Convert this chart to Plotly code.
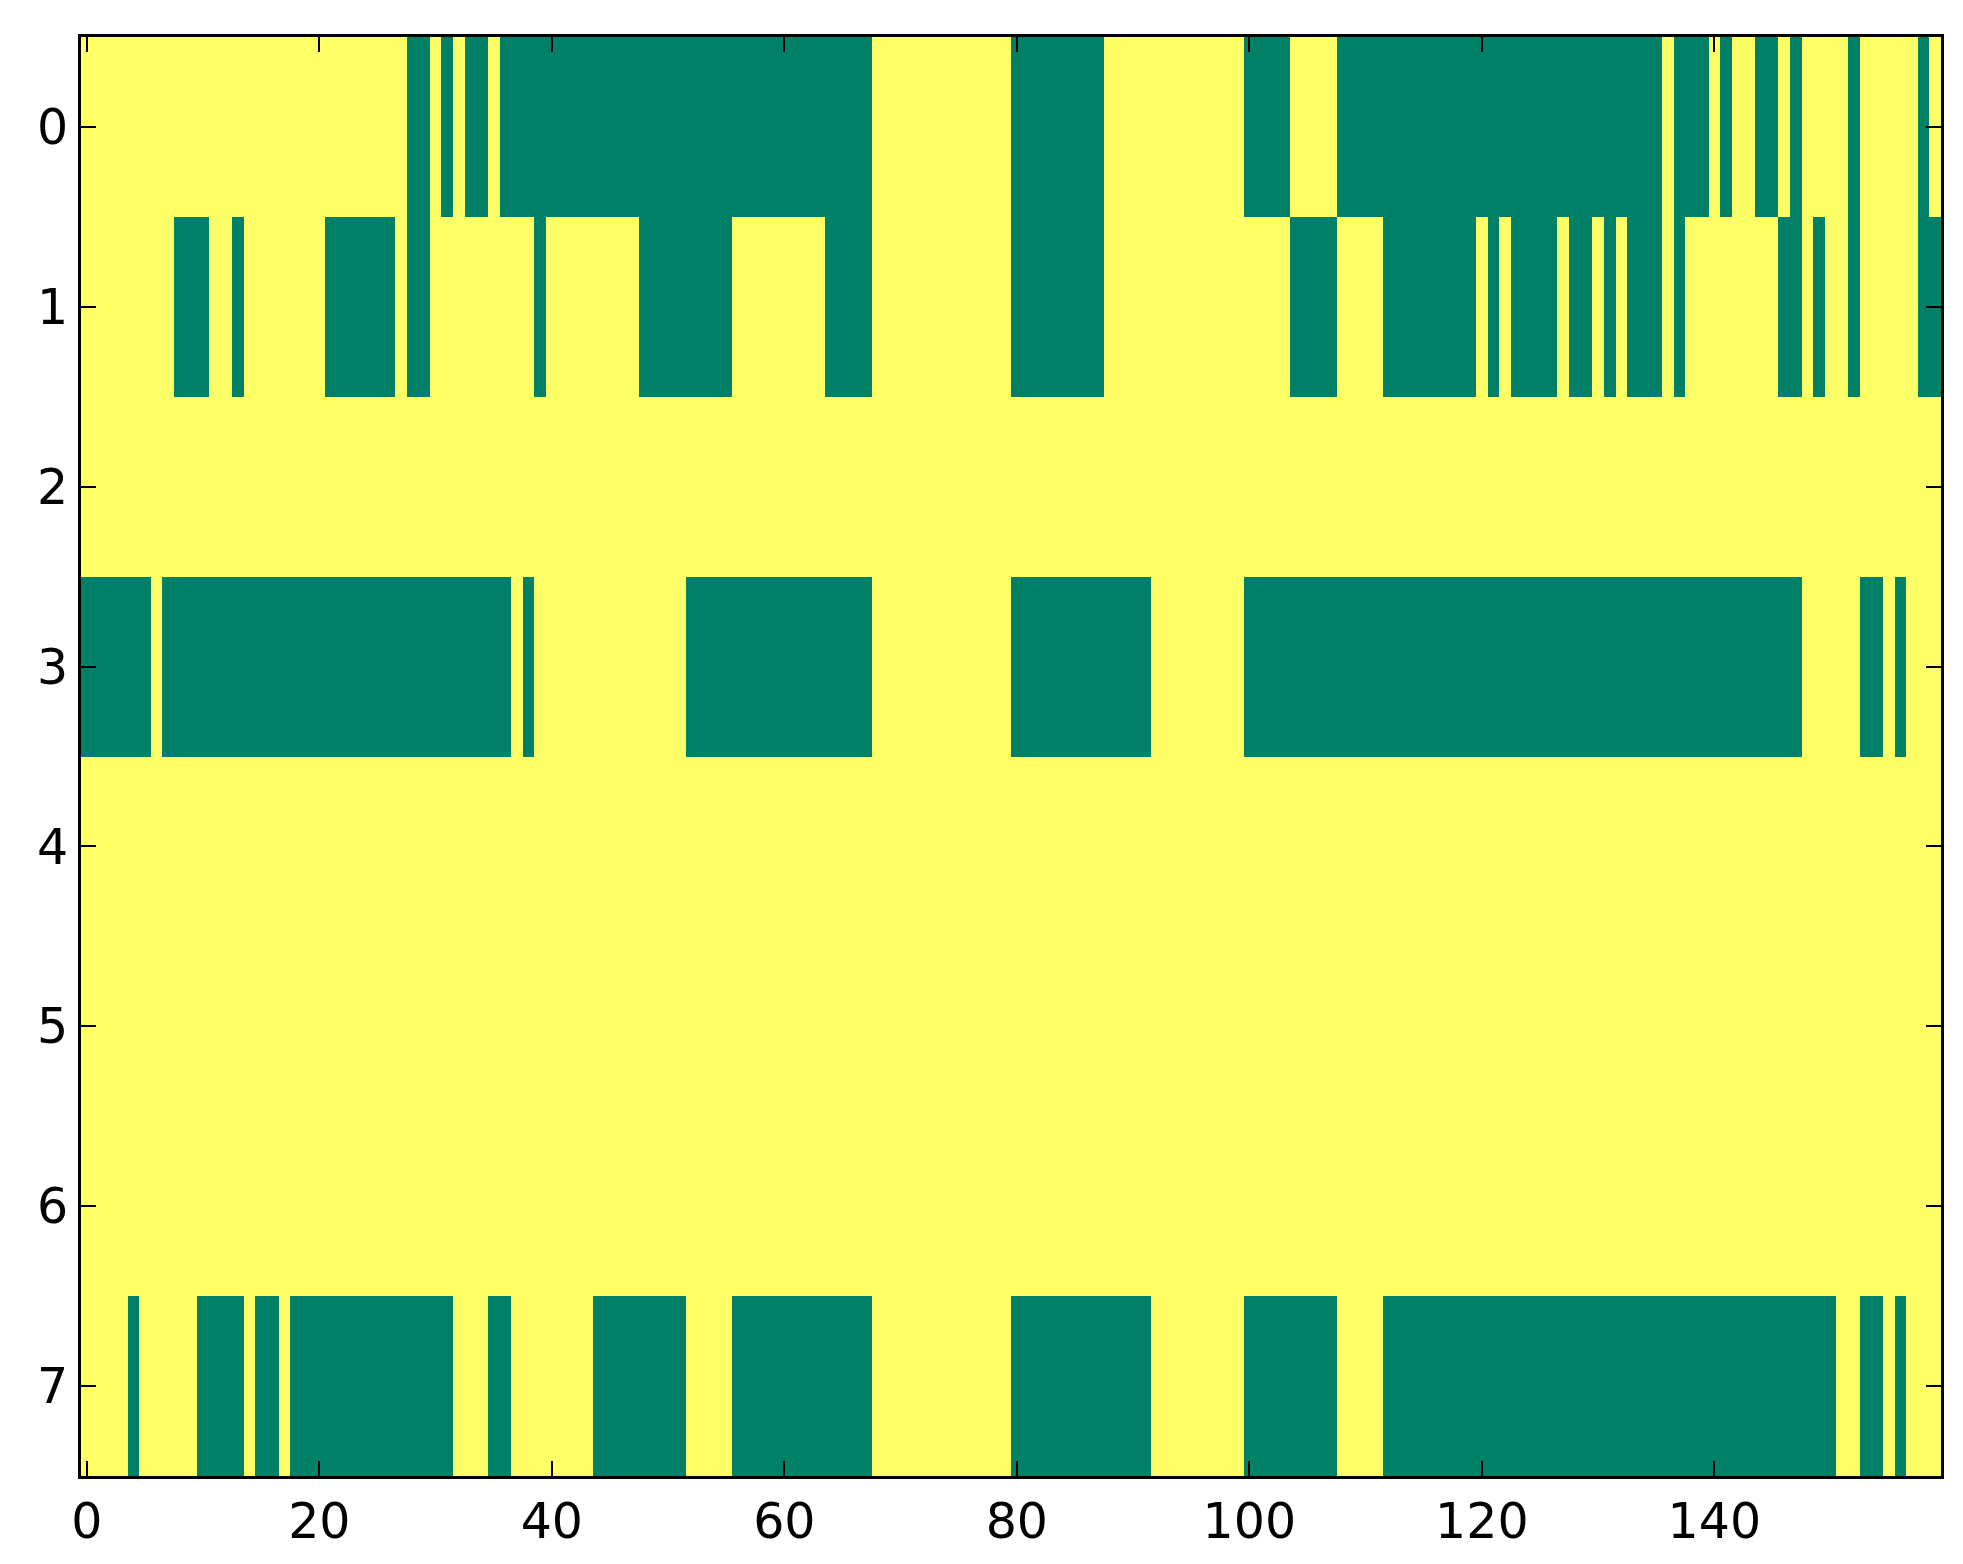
import plotly.graph_objects as go

# green (value 0) runs per row, as (first column, last column)
# every other cell is yellow (value 1)
n_rows = 8
n_cols = 160
green_runs = {
    0: [(28, 29), (31, 31), (33, 34), (36, 67), (80, 87), (100, 103), (108, 135),
        (137, 139), (141, 141), (144, 145), (147, 147), (152, 152), (158, 158)],
    1: [(8, 10), (13, 13), (21, 26), (28, 29), (39, 39), (48, 55), (64, 67), (80, 87),
        (104, 107), (112, 119), (121, 121), (123, 126), (128, 129), (131, 131),
        (133, 135), (137, 137), (146, 147), (149, 149), (152, 152), (158, 159)],
    3: [(0, 5), (7, 36), (38, 38), (52, 67), (80, 91), (100, 147), (153, 154), (156, 156)],
    7: [(4, 4), (10, 13), (15, 16), (18, 31), (35, 36), (44, 51), (56, 67), (80, 91),
        (100, 107), (112, 150), (153, 154), (156, 156)],
}
x_ticks = [0, 20, 40, 60, 80, 100, 120, 140]
y_ticks = [0, 1, 2, 3, 4, 5, 6, 7]

z = [[1] * n_cols for _ in range(n_rows)]
for row, runs in green_runs.items():
    for a, b in runs:
        for c in range(a, b + 1):
            z[row][c] = 0

# matplotlib "summer" end colours
summer = [[0, "#008066"], [1, "#ffff66"]]

fig = go.Figure(go.Heatmap(
    z=z,
    x=list(range(n_cols)),
    y=list(range(n_rows)),
    colorscale=summer,
    zmin=0, zmax=1,
    showscale=False,
    hoverinfo="skip",
))

axis_style = dict(
    showline=True, linecolor="black", linewidth=3, mirror="ticks",
    ticks="inside", ticklen=15, tickwidth=2, tickcolor="black",
    showgrid=False, zeroline=False,
    tickfont=dict(family="DejaVu Sans", size=49, color="black"),
)

fig.update_xaxes(range=[-0.5, n_cols - 0.5], tickvals=x_ticks, **axis_style)
fig.update_yaxes(range=[n_rows - 0.5, -0.5], tickvals=y_ticks, **axis_style)

fig.update_layout(
    width=1963, height=1564,
    margin=dict(l=73, r=30, t=29, b=96),
    plot_bgcolor="white", paper_bgcolor="white",
)

fig.write_html("out.html")
